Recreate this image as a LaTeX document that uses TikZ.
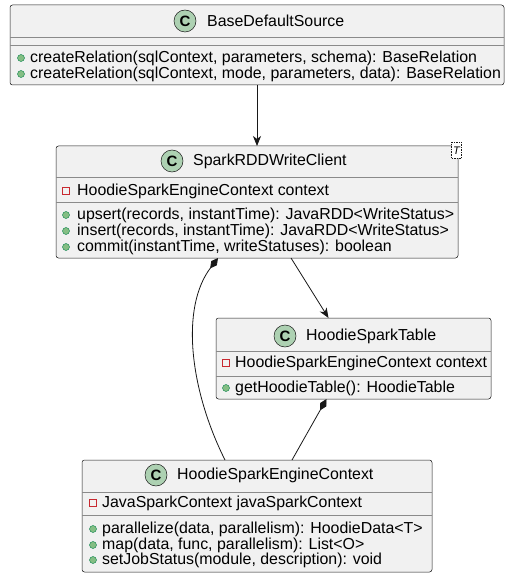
\documentclass[tikz,border=0pt]{standalone}
\usepackage{fontspec}
\setmainfont{Liberation Sans}
\usetikzlibrary{positioning,calc,arrows.meta}
\definecolor{CFill}{HTML}{F1F1F1}
\definecolor{CLine}{HTML}{181818}
\definecolor{CSep}{HTML}{8A8A8A}
\definecolor{CIcon}{HTML}{ADD1B2}
\definecolor{CPriv}{HTML}{C82930}
\definecolor{CPub}{HTML}{84BE84}
\definecolor{CPubEdge}{HTML}{038048}

\begin{document}
\begin{tikzpicture}[x=1pt, y=-1pt,
  classbox/.style={draw=CLine, fill=CFill, line width=0.5pt, rounded corners=2.5pt, inner sep=0pt, outer sep=0pt},
  sepline/.style={draw=CSep, line width=0.7pt},
  classname/.style={font=\fontsize{15.9}{16}\selectfont, anchor=west, inner sep=0pt},
  member/.style={font=\fontsize{15.9}{16}\selectfont, anchor=west, inner sep=0pt},
  cicon/.style={circle, draw=CLine, fill=CIcon, line width=0.5pt, minimum size=22pt, inner sep=0pt, font=\bfseries\fontsize{15}{15}\selectfont},
  privicon/.style={draw=CPriv, line width=0.8pt, minimum size=7pt, inner sep=0pt},
  pubicon/.style={circle, draw=CPubEdge, fill=CPub, line width=0.4pt, minimum size=7pt, inner sep=0pt},
  assoc/.style={draw=CLine, line width=0.8pt, -{Stealth[length=10pt, width=8pt, inset=3pt]}},
  compo/.style={draw=CLine, line width=0.8pt, {Diamond[length=13pt, width=7pt]}-}]
\useasboundingbox (0,0) rectangle (512,588);

% BaseDefaultSource
\node[classbox, minimum width=494pt, minimum height=80pt] (base) at (257,45) {};
\draw[sepline] ([yshift=-32pt]base.north west) -- ([yshift=-32pt]base.north east);
\draw[sepline] ([yshift=-40pt]base.north west) -- ([yshift=-40pt]base.north east);
\node[cicon] (base-c) at (185,21) {C};
\node[classname] (base-name) at (207,21) {BaseDefaultSource};
\node[pubicon] at (21,58) {}; \node[member] (base-m1) at (30,58) {createRelation(sqlContext, parameters, schema): BaseRelation};
\node[pubicon] at (21,74) {}; \node[member] (base-m2) at (30,74) {createRelation(sqlContext, mode, parameters, data): BaseRelation};

% SparkRDDWriteClient
\node[classbox, minimum width=402pt, minimum height=112pt] (client) at (257,202) {};
\draw[sepline] ([yshift=-31pt]client.north west) -- ([yshift=-31pt]client.north east);
\draw[sepline] ([yshift=-56pt]client.north west) -- ([yshift=-56pt]client.north east);
\node[cicon] (client-c) at (172,161) {C};
\node[classname] (client-name) at (193,161) {SparkRDDWriteClient};
\node[draw=CLine, dashed, dash pattern=on 1.5pt off 1pt, fill=white, line width=0.5pt, minimum width=10pt, minimum height=16pt, inner sep=0pt, font=\itshape\fontsize{11}{11}\selectfont] (client-t) at (456.5,150.5) {T};
\node[privicon] at (66,191) {}; \node[member] (client-a1) at (77,191) {HoodieSparkEngineContext context};
\node[pubicon] at (66,215) {}; \node[member] (client-m1) at (77,215) {upsert(records, instantTime): JavaRDD<WriteStatus>};
\node[pubicon] at (66,231) {}; \node[member] (client-m2) at (77,231) {insert(records, instantTime): JavaRDD<WriteStatus>};
\node[pubicon] at (66,247) {}; \node[member] (client-m3) at (77,247) {commit(instantTime, writeStatuses): boolean};

% HoodieSparkTable
\node[classbox, minimum width=275pt, minimum height=81pt] (table) at (353.5,358.5) {};
\draw[sepline] ([yshift=-33pt]table.north west) -- ([yshift=-33pt]table.north east);
\draw[sepline] ([yshift=-58pt]table.north west) -- ([yshift=-58pt]table.north east);
\node[cicon] (table-c) at (285,336) {C};
\node[classname] (table-name) at (306,336) {HoodieSparkTable};
\node[privicon] at (226,363) {}; \node[member] (table-a1) at (235,363) {HoodieSparkEngineContext context};
\node[pubicon] at (226,388) {}; \node[member] (table-m1) at (235,388) {getHoodieTable(): HoodieTable};

% HoodieSparkEngineContext
\node[classbox, minimum width=350pt, minimum height=112pt] (engine) at (257,516) {};
\draw[sepline] ([yshift=-32pt]engine.north west) -- ([yshift=-32pt]engine.north east);
\draw[sepline] ([yshift=-55pt]engine.north west) -- ([yshift=-55pt]engine.north east);
\node[cicon] (engine-c) at (156,475) {C};
\node[classname] (engine-name) at (177,475) {HoodieSparkEngineContext};
\node[privicon] at (93,503) {}; \node[member] (engine-a1) at (102,503) {JavaSparkContext javaSparkContext};
\node[pubicon] at (93,529) {}; \node[member] (engine-m1) at (102,529) {parallelize(data, parallelism): HoodieData<T>};
\node[pubicon] at (93,545) {}; \node[member] (engine-m2) at (102,545) {map(data, func, parallelism): List<O>};
\node[pubicon] at (93,560) {}; \node[member] (engine-m3) at (102,560) {setJobStatus(module, description): void};

% relations
\draw[assoc] (base.south) -- (client.north);
\draw[assoc] ([xshift=34pt]client.south) -- ([xshift=-25pt]table.north);
\draw[compo] ([xshift=-39pt]client.south) .. controls +(-38,50) and +(-35,-70) .. ([xshift=-32pt]engine.north);
\draw[compo] ([xshift=-27pt]table.south) -- ([xshift=35pt]engine.north);
\end{tikzpicture}
\end{document}
